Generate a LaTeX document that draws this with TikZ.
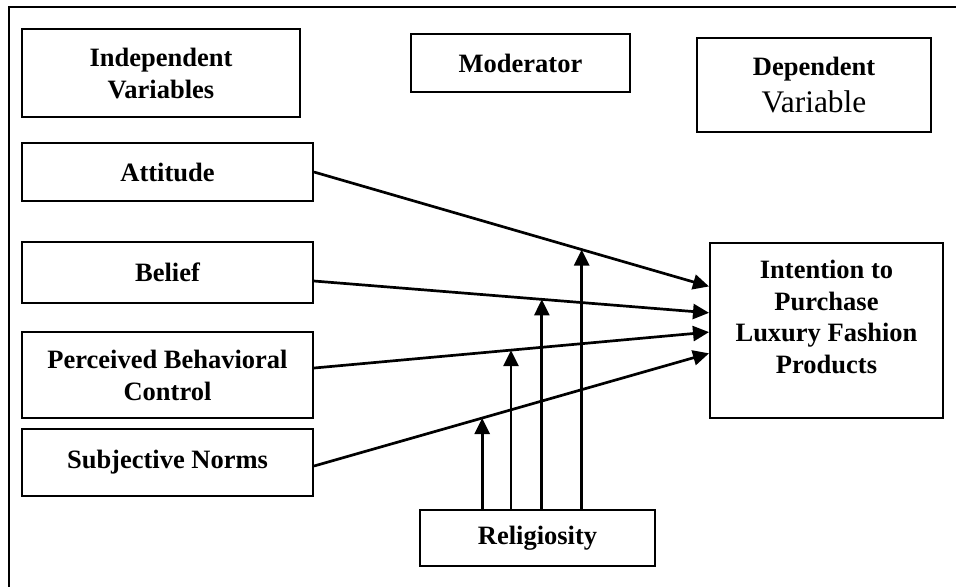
\documentclass[tikz,border=0pt]{standalone}
\usepackage{fontspec}
\setmainfont{Liberation Serif}
\usetikzlibrary{arrows.meta,calc}
\begin{document}
\begin{tikzpicture}[x=0.5pt,y=-0.5pt,
  box/.style={draw,line width=1pt,rectangle,inner sep=0pt,align=center,
    font=\fontsize{13.25}{16}\selectfont\bfseries},
  txt/.style={inner sep=0pt,align=center,font=\fontsize{13.25}{15.7}\selectfont\bfseries},
  arr/.style={line width=1.35pt,-{Triangle[length=8pt,width=7.5pt]}}]
\useasboundingbox (0,0) rectangle (956,586);
\draw[line width=1.1pt] (9,590) -- (9,7) -- (960,7);
% header boxes
\node[box,minimum width=139pt,minimum height=44pt] (iv) at (161,73) {Independent\\Variables};
\node[box,minimum width=109.5pt,minimum height=29pt] (mod) at (520.5,63) {Moderator};
\node[box,minimum width=117pt,minimum height=47pt] (dv) at (814,85)
  {Dependent\\[2.5pt]{\fontsize{15.7}{17.5}\selectfont\mdseries Variable}};
% independent variables
\node[box,minimum width=145.5pt,minimum height=29pt] (att) at (167.5,172) {Attitude};
\node[box,minimum width=145.5pt,minimum height=30.5pt] (bel) at (167.5,272.5) {Belief};
\node[box,minimum width=145.5pt,minimum height=43pt] (pbc) at (167.5,375) {Perceived Behavioral\\Control};
\node[box,minimum width=145.5pt,minimum height=33.5pt] (sn) at (167.5,462.5) {\raisebox{3.5pt}{Subjective Norms}};
% moderator and dependent
\node[box,minimum width=117.5pt,minimum height=28pt] (rel) at (537.5,538) {Religiosity};
\node[draw,line width=1pt,rectangle,minimum width=116.5pt,minimum height=87.5pt] (int) at (826.5,330.5) {};
\node[txt] (intT) at (826.5,317) {Intention to\\Purchase\\Luxury Fashion\\Products};
% end points on the dependent box
\coordinate (e1) at ($(int.north west)!0.251!(int.south west)$);
\coordinate (e2) at ($(int.north west)!0.400!(int.south west)$);
\coordinate (e3) at ($(int.north west)!0.509!(int.south west)$);
\coordinate (e4) at ($(int.north west)!0.629!(int.south west)$);
% main arrows
\draw[arr] (att.east) -- coordinate[pos=0.6776] (m1) (e1);
\draw[arr] ([yshift=-4.25pt]bel.east) -- coordinate[pos=0.5768] (m2) (e2);
\draw[arr] ([yshift=3.5pt]pbc.east) -- coordinate[pos=0.4987] (m3) (e3);
\draw[arr] ([yshift=-1.75pt]sn.east) -- coordinate[pos=0.4257] (m4) (e4);
% moderating arrows
\draw[arr] (rel.north -| m1) -- (m1);
\draw[arr] (rel.north -| m2) -- (m2);
\draw[arr] (rel.north -| m3) -- (m3);
\draw[arr] (rel.north -| m4) -- (m4);
\end{tikzpicture}
\end{document}
